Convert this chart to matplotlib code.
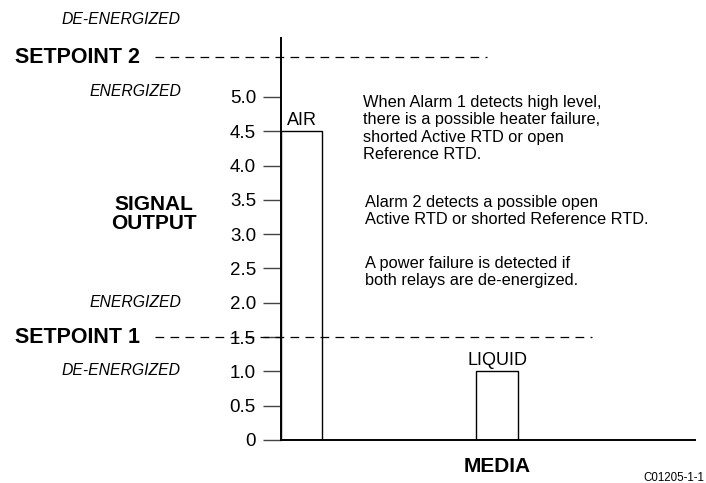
import matplotlib
matplotlib.use("Agg")
import matplotlib.pyplot as plt
import numpy as np

plt.rcParams['font.family'] = ['Liberation Sans', 'DejaVu Sans']

# data
media = ['AIR', 'LIQUID']
media_pos = [0.5, 5.22]
signal = [4.5, 1.0]
setpoint_names = ['SETPOINT 1', 'SETPOINT 2']
setpoints = [1.5, 5.58]
yticks = [0, 0.5, 1.0, 1.5, 2.0, 2.5, 3.0, 3.5, 4.0, 4.5, 5.0]
ytick_labels = ['0', '0.5', '1.0', '1.5', '2.0', '2.5', '3.0', '3.5', '4.0', '4.5', '5.0']
notes = [
    "When Alarm 1 detects high level,\nthere is a possible heater failure,\nshorted Active RTD or open\nReference RTD.",
    "Alarm 2 detects a possible open\nActive RTD or shorted Reference RTD.",
    "A power failure is detected if\nboth relays are de-energized.",
]

W, H = 706, 483
fig = plt.figure(figsize=(W / 100, H / 100), dpi=100)
ax = fig.add_axes([281 / W, (H - 440) / H, (695 - 281) / W, (440 - 38) / H])
ax.set_xlim(0, 10)
ax.set_ylim(0, 5.86)

ax.bar(media_pos, signal, width=1.0, facecolor='white', edgecolor='black', linewidth=1.0, zorder=2)
for x, v, name in zip(media_pos, signal, media):
    ax.text(x, v + 0.04, name, ha='center', va='bottom', fontsize=13)

# setpoint lines, running out past the axis on the left
x_left = (155 - 281) / 41.4
x_right = [(592 - 281) / 41.4, (487 - 281) / 41.4]
for sp, xr, name in zip(setpoints, x_right, setpoint_names):
    ax.plot([x_left, xr], [sp, sp], color='black', lw=0.9, dashes=(7, 5), clip_on=False, zorder=3)
    ax.text((15 - 281) / 41.4, sp, name, ha='left', va='center', fontsize=15.5, fontweight='bold')

# relay states
xr_lab = (181 - 281) / 41.4
fs_state = 11.3
ax.text(xr_lab, setpoints[1] + 0.55, 'DE-ENERGIZED', ha='right', va='center', fontsize=fs_state, style='italic')
ax.text(xr_lab, setpoints[1] - 0.5, 'ENERGIZED', ha='right', va='center', fontsize=fs_state, style='italic')
ax.text(xr_lab, setpoints[0] + 0.5, 'ENERGIZED', ha='right', va='center', fontsize=fs_state, style='italic')
ax.text(xr_lab, setpoints[0] - 0.48, 'DE-ENERGIZED', ha='right', va='center', fontsize=fs_state, style='italic')

ax.text((154 - 281) / 41.4, (440 - 214) / 68.6, 'SIGNAL\nOUTPUT', ha='center', va='center',
        fontsize=15, fontweight='bold', linespacing=1.05)

nx = (363 - 281) / 41.4
fs_note = 11.8
ax.text(nx, (440 - 95) / 68.6, notes[0], ha='left', va='top', fontsize=fs_note, linespacing=1.2)
ax.text(nx + 0.05, (440 - 195) / 68.6, notes[1], ha='left', va='top', fontsize=fs_note, linespacing=1.2)
ax.text(nx + 0.05, (440 - 256) / 68.6, notes[2], ha='left', va='top', fontsize=fs_note, linespacing=1.2)

ax.text(media_pos[1], -0.38, 'MEDIA', ha='center', va='center', fontsize=15, fontweight='bold')
fig.text(704 / W, 1 - 478 / H, 'C01205-1-1', ha='right', va='center', fontsize=8.3)

ax.set_yticks(yticks)
ax.set_yticklabels(ytick_labels, fontsize=13.5)
ax.tick_params(axis='y', length=13, width=1.0, color='#444444', pad=5)
ax.set_xticks([])
for s in ['top', 'right']:
    ax.spines[s].set_visible(False)
ax.spines['left'].set_linewidth(1.4)
ax.spines['bottom'].set_linewidth(1.4)

fig.savefig('out.png', dpi=100)
